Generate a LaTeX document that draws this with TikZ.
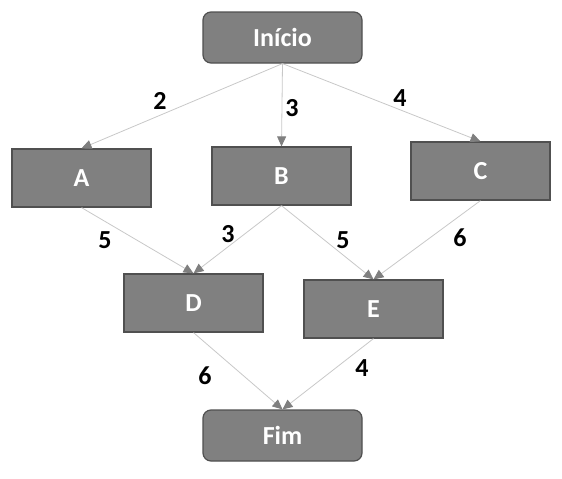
\documentclass[tikz,border=0pt]{standalone}
\usepackage{fontspec}
\setmainfont{Carlito}[BoldFont={Carlito Bold}]
\usetikzlibrary{arrows.meta}
\definecolor{boxfill}{HTML}{808080}
\definecolor{boxline}{HTML}{505050}
\definecolor{edgeline}{HTML}{C8C8C8}
\definecolor{tipcol}{HTML}{7F7F7F}
\begin{document}
\begin{tikzpicture}[x=1pt,y=-1pt,
  task/.style={draw=boxline,fill=boxfill,line width=1.2pt,minimum width=139pt,minimum height=58pt,inner sep=0pt,text=white,font=\fontsize{26}{30}\selectfont\bfseries},
  term/.style={task,rounded corners=8pt,minimum width=159pt,minimum height=51pt},
  edge/.style={draw=edgeline,line width=0.8pt,-{Triangle[length=10pt,width=9pt,color=tipcol]}},
  wlabel/.style={font=\fontsize{26}{30}\selectfont\bfseries,text=black}]
\useasboundingbox (0,0) rectangle (562,479);
\node[term] (ini) at (282.5,37.5) {Início};
\node[task] (a) at (81.5,178) {A};
\node[task] (b) at (281.5,176) {B};
\node[task] (c) at (480.5,171) {C};
\node[task] (d) at (193.5,303) {D};
\node[task] (e) at (373.5,309) {E};
\node[term] (fim) at (282.5,435.5) {Fim};
\draw[edge] (ini.south) -- (a.north);
\draw[edge] (ini.south) -- (b.north);
\draw[edge] (ini.south) -- (c.north);
\draw[edge] (a.south) -- (d.north);
\draw[edge] (b.south) -- (d.north);
\draw[edge] (b.south) -- (e.north);
\draw[edge] (c.south) -- (e.north);
\draw[edge] (d.south) -- (fim.north);
\draw[edge] (e.south) -- (fim.north);
\node[wlabel] (l1) at (160,101) {2};
\node[wlabel] (l2) at (292,108) {3};
\node[wlabel] (l3) at (400,98) {4};
\node[wlabel] (l4) at (105,240) {5};
\node[wlabel] (l5) at (228,234) {3};
\node[wlabel] (l6) at (343,240) {5};
\node[wlabel] (l7) at (460,238) {6};
\node[wlabel] (l8) at (205,376) {6};
\node[wlabel] (l9) at (362,368) {4};
\end{tikzpicture}
\end{document}
